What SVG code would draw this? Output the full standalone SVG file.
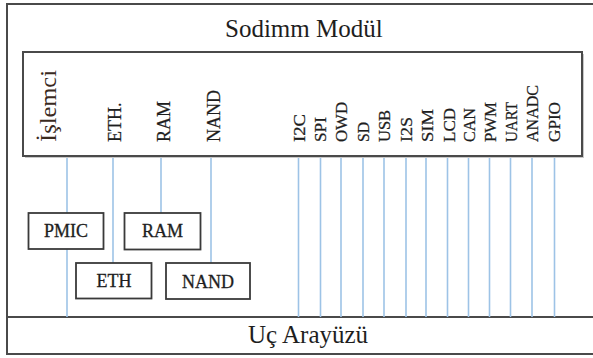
<svg xmlns="http://www.w3.org/2000/svg" width="593" height="358" viewBox="0 0 593 358">
<style>
.frame{fill:none;stroke:#4a4a4a;stroke-width:2}
.panel{fill:#fff;stroke:#4a4a4a;stroke-width:2}
.box{fill:#fff;stroke:#3a3a3a;stroke-width:1.8}
.bus{stroke:#9dc3e6;stroke-width:1.6;fill:none}
.t{font-family:"Liberation Serif","Times New Roman",serif;fill:#1e1e1e}
.big{font-size:25px}
.lab{font-size:18px;stroke:#1e1e1e;stroke-width:0.25}
.sig{font-size:16px;stroke:#1e1e1e;stroke-width:0.25}
.bl{font-size:18px;text-anchor:middle;stroke:#1e1e1e;stroke-width:0.3}
</style>
<rect x="0" y="0" width="593" height="358" fill="#fff"/>
<g id="outer-frame">
<rect class="frame" x="7" y="4" width="600" height="350"/>
<line class="frame" x1="7" y1="317" x2="593" y2="317"/>
</g>
<g id="connectors">
<line class="bus" x1="67" y1="157" x2="67" y2="317"/>
<line class="bus" x1="113" y1="157" x2="113" y2="263"/>
<line class="bus" x1="161" y1="157" x2="161" y2="213"/>
<line class="bus" x1="211" y1="157" x2="211" y2="263"/>
<line class="bus" x1="298.5" y1="157" x2="298.5" y2="317"/>
<line class="bus" x1="320.5" y1="157" x2="320.5" y2="317"/>
<line class="bus" x1="341" y1="157" x2="341" y2="317"/>
<line class="bus" x1="363" y1="157" x2="363" y2="317"/>
<line class="bus" x1="384" y1="157" x2="384" y2="317"/>
<line class="bus" x1="406" y1="157" x2="406" y2="317"/>
<line class="bus" x1="426" y1="157" x2="426" y2="317"/>
<line class="bus" x1="447.5" y1="157" x2="447.5" y2="317"/>
<line class="bus" x1="468.5" y1="157" x2="468.5" y2="317"/>
<line class="bus" x1="489.5" y1="157" x2="489.5" y2="317"/>
<line class="bus" x1="510.5" y1="157" x2="510.5" y2="317"/>
<line class="bus" x1="532" y1="157" x2="532" y2="317"/>
<line class="bus" x1="554.5" y1="157" x2="554.5" y2="317"/>
</g>
<g id="sodimm-modul">
<text class="t big" x="225" y="37">Sodimm Modül</text>
<rect x="25" y="54" width="559" height="104" fill="#c8c8c8"/>
<rect class="panel" x="23" y="52" width="559" height="104"/>
<text class="t" style="font-size:24px;fill:#3a2a1e" transform="translate(56,142) rotate(-90)" textLength="72" lengthAdjust="spacingAndGlyphs">İşlemci</text>
<text class="t lab" transform="translate(121,142) rotate(-90)">ETH.</text>
<text class="t lab" transform="translate(170,142) rotate(-90)">RAM</text>
<text class="t lab" transform="translate(220,142) rotate(-90)">NAND</text>
<text class="t sig" transform="translate(305,142) rotate(-90)" textLength="28" lengthAdjust="spacingAndGlyphs">I2C</text>
<text class="t sig" transform="translate(326,142) rotate(-90)" textLength="25" lengthAdjust="spacingAndGlyphs">SPI</text>
<text class="t sig" transform="translate(347,142) rotate(-90)" textLength="40" lengthAdjust="spacingAndGlyphs">OWD</text>
<text class="t sig" transform="translate(368.5,142) rotate(-90)" textLength="20" lengthAdjust="spacingAndGlyphs">SD</text>
<text class="t sig" transform="translate(389.5,142) rotate(-90)" textLength="32" lengthAdjust="spacingAndGlyphs">USB</text>
<text class="t sig" transform="translate(411.5,142) rotate(-90)" textLength="25" lengthAdjust="spacingAndGlyphs">I2S</text>
<text class="t sig" transform="translate(433,142) rotate(-90)" textLength="33" lengthAdjust="spacingAndGlyphs">SIM</text>
<text class="t sig" transform="translate(454.5,142) rotate(-90)" textLength="34" lengthAdjust="spacingAndGlyphs">LCD</text>
<text class="t sig" transform="translate(475,142) rotate(-90)" textLength="34" lengthAdjust="spacingAndGlyphs">CAN</text>
<text class="t sig" transform="translate(496,142) rotate(-90)" textLength="40" lengthAdjust="spacingAndGlyphs">PWM</text>
<text class="t sig" transform="translate(517,142) rotate(-90)" textLength="40" lengthAdjust="spacingAndGlyphs">UART</text>
<text class="t sig" transform="translate(538,142) rotate(-90)" textLength="57" lengthAdjust="spacingAndGlyphs">ANADC</text>
<text class="t sig" transform="translate(560,142) rotate(-90)" textLength="40" lengthAdjust="spacingAndGlyphs">GPIO</text>
</g>
<g id="pmic">
<rect class="box" x="28.5" y="213" width="75" height="36"/>
<text class="t bl" x="66" y="237">PMIC</text>
</g>
<g id="ram">
<rect class="box" x="124.5" y="213" width="76" height="36.5"/>
<text class="t bl" x="162.5" y="237">RAM</text>
</g>
<g id="eth">
<rect class="box" x="76" y="263" width="75.5" height="35.5"/>
<text class="t bl" x="114" y="286.5">ETH</text>
</g>
<g id="nand">
<rect class="box" x="166" y="263" width="84" height="36"/>
<text class="t bl" x="208" y="287.5">NAND</text>
</g>
<g id="uc-arayuzu">
<text class="t big" x="248" y="343">Uç Arayüzü</text>
</g>
</svg>
